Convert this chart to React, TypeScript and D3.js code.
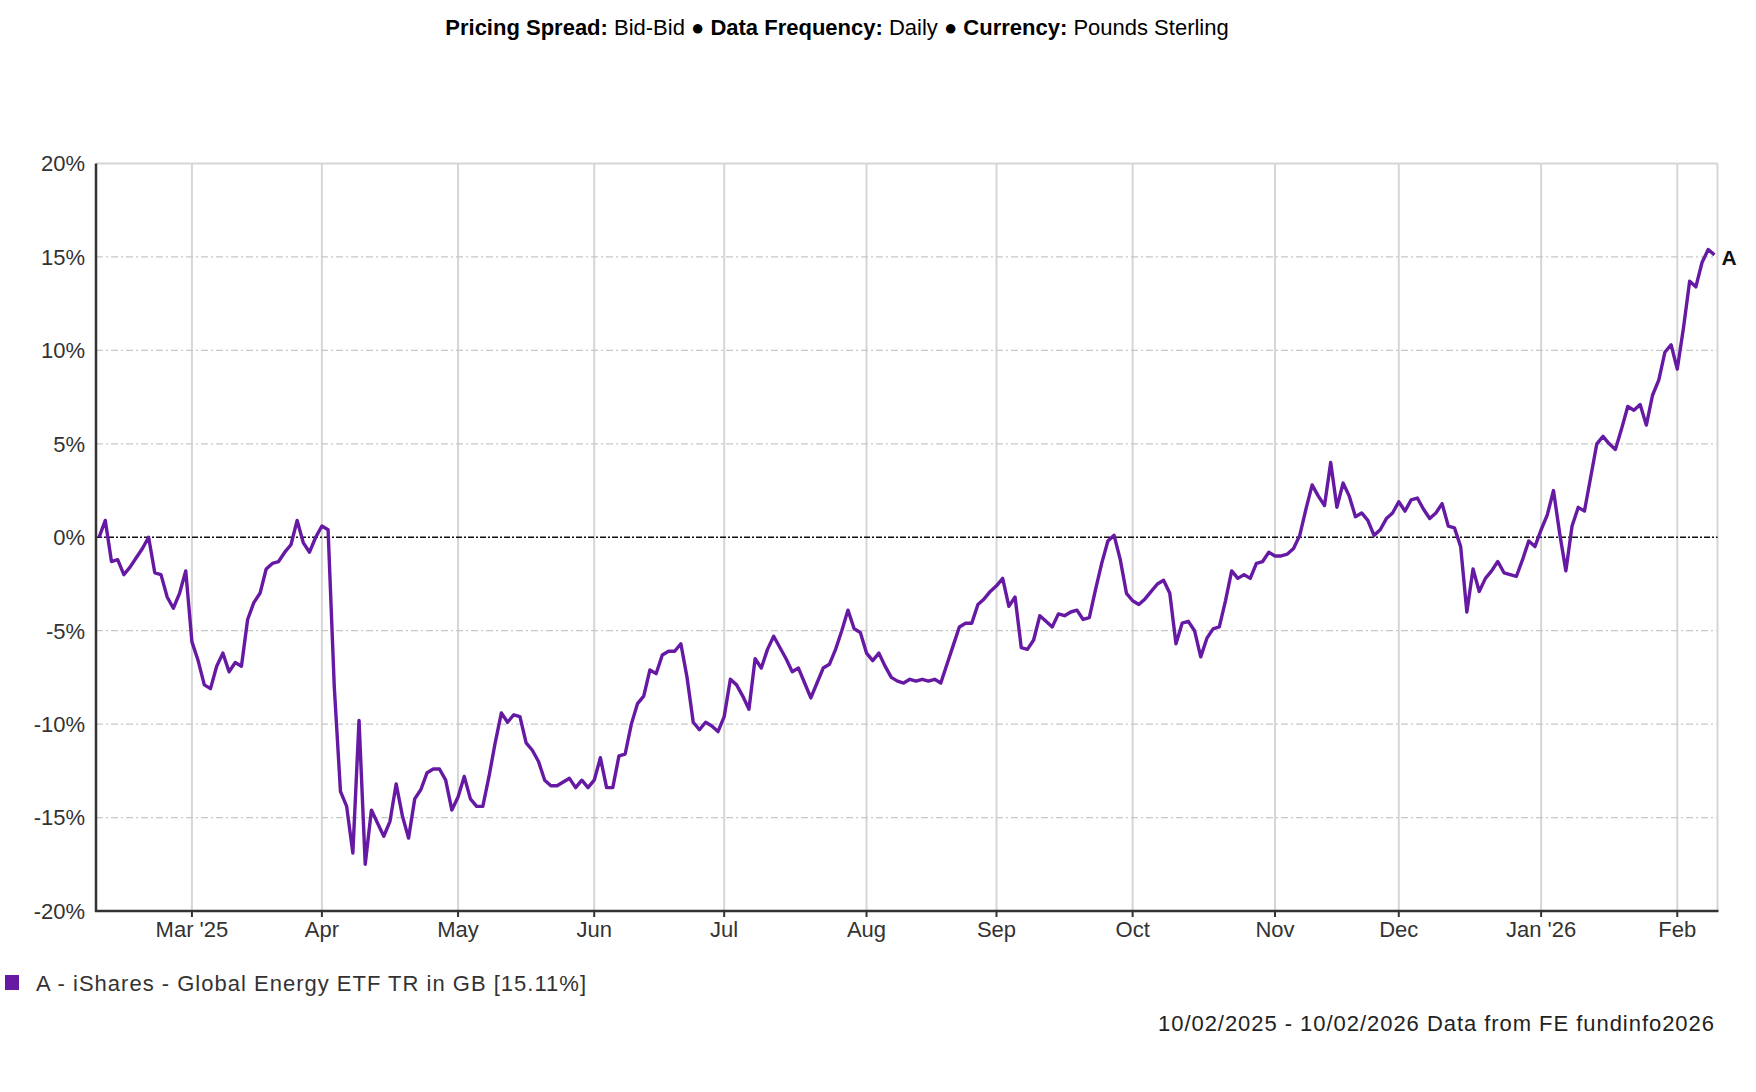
import * as d3 from "d3";
import { useEffect, useRef } from "react";

// weekday closes, % change since 10/02/2025
const feb25 = [0.0, 0.9, -1.3, -1.2, -2.0, -1.6, -1.1, -0.6, 0.0, -1.9, -2.0, -3.2, -3.8, -3.0, -1.8];
const mar25 = [-5.6, -6.6, -7.9, -8.1, -6.9, -6.2, -7.2, -6.7, -6.9, -4.4, -3.5, -3.0, -1.7, -1.4, -1.3, -0.8, -0.4, 0.9, -0.3, -0.8, 0.0];
const apr25 = [0.6, 0.4, -8.0, -13.6, -14.4, -16.9, -9.8, -17.5, -14.6, -15.3, -16.0, -15.2, -13.2, -14.9, -16.1, -14.0, -13.5, -12.6, -12.4, -12.4, -13.0, -14.6];
const may25 = [-13.9, -12.8, -14.0, -14.4, -14.4, -12.8, -11.0, -9.4, -9.9, -9.5, -9.6, -11.0, -11.4, -12.0, -13.0, -13.3, -13.3, -13.1, -12.9, -13.4, -13.0, -13.4];
const jun25 = [-13.0, -11.8, -13.4, -13.4, -11.7, -11.6, -10.0, -8.9, -8.5, -7.1, -7.3, -6.3, -6.1, -6.1, -5.7, -7.5, -9.9, -10.3, -9.9, -10.1, -10.4];
const jul25 = [-9.6, -7.6, -7.9, -8.5, -9.2, -6.5, -7.0, -6.0, -5.3, -5.9, -6.5, -7.2, -7.0, -7.8, -8.6, -7.8, -7.0, -6.8, -6.0, -5.0, -3.9, -4.9, -5.1];
const aug25 = [-6.2, -6.6, -6.2, -6.9, -7.5, -7.7, -7.8, -7.6, -7.7, -7.6, -7.7, -7.6, -7.8, -6.8, -5.8, -4.8, -4.6, -4.6, -3.6, -3.3, -2.9];
const sep25 = [-2.6, -2.2, -3.7, -3.2, -5.9, -6.0, -5.5, -4.2, -4.5, -4.8, -4.1, -4.2, -4.0, -3.9, -4.4, -4.3, -2.8, -1.4, -0.2, 0.1, -1.2, -3.0];
const oct25 = [-3.4, -3.6, -3.3, -2.9, -2.5, -2.3, -3.0, -5.7, -4.6, -4.5, -5.0, -6.4, -5.4, -4.9, -4.8, -3.4, -1.8, -2.2, -2.0, -2.2, -1.4, -1.3, -0.8];
const nov25 = [-1.0, -1.0, -0.9, -0.6, 0.1, 1.5, 2.8, 2.2, 1.7, 4.0, 1.6, 2.9, 2.2, 1.1, 1.3, 0.9, 0.1, 0.4, 1.0, 1.3];
const dec25 = [1.9, 1.4, 2.0, 2.1, 1.5, 1.0, 1.3, 1.8, 0.6, 0.5, -0.5, -4.0, -1.7, -2.9, -2.2, -1.8, -1.3, -1.9, -2.0, -2.1, -1.2, -0.2, -0.5];
const jan26 = [0.4, 1.2, 2.5, 0.2, -1.8, 0.6, 1.6, 1.4, 3.2, 5.0, 5.4, 5.0, 4.7, 5.8, 7.0, 6.8, 7.1, 6.0, 7.6, 8.4, 9.9, 10.3];
const feb26 = [9.0, 11.2, 13.7, 13.4, 14.7, 15.4, 15.11];

const values = [
  ...feb25, ...mar25, ...apr25, ...may25, ...jun25, ...jul25,
  ...aug25, ...sep25, ...oct25, ...nov25, ...dec25, ...jan26, ...feb26,
];

const monthLabels = ["Mar '25", "Apr", "May", "Jun", "Jul", "Aug", "Sep", "Oct", "Nov", "Dec", "Jan '26", "Feb"];
const yTicks = [20, 15, 10, 5, 0, -5, -10, -15, -20];

const seriesName = "A - iShares - Global Energy ETF TR in GB [15.11%]";
const footer = "10/02/2025 - 10/02/2026 Data from FE fundinfo2026";

const purple = "#6619a3";
const font = "'Liberation Sans', Arial, sans-serif";

// weekdays from 10/02/2025 to 10/02/2026 (the x axis skips weekends)
function weekdays(start: Date, end: Date) {
  const out: Date[] = [];
  const d = new Date(start);
  while (d <= end) {
    const wd = d.getDay();
    if (wd !== 0 && wd !== 6) out.push(new Date(d));
    d.setDate(d.getDate() + 1);
  }
  return out;
}

export default function App() {
  const svgRef = useRef<SVGSVGElement | null>(null);

  useEffect(() => {
    document.body.style.margin = "0";
    if (!svgRef.current) return;
    const svg = d3.select(svgRef.current);
    svg.selectAll("*").remove();

    const width = 1756;
    const height = 1092;
    const left = 96;
    const right = 1717.5;
    const top = 163.5;
    const bottom = 911;

    const dates = weekdays(new Date(2025, 1, 10), new Date(2026, 1, 10));
    const n = Math.min(dates.length, values.length);
    const data = values.slice(0, n).map((v, i) => ({ i, v, date: dates[i] }));

    // first weekday of each month
    const monthStarts: number[] = [];
    for (let i = 1; i < n; i++) {
      if (dates[i].getMonth() !== dates[i - 1].getMonth()) monthStarts.push(i);
    }

    const x = d3.scaleLinear().domain([-0.5, n - 0.5]).range([left, right]);
    const y = d3.scaleLinear().domain([-20, 20]).range([bottom, top]);

    svg.attr("width", width).attr("height", height);

    // title
    const title = svg.append("text")
      .attr("x", 837)
      .attr("y", 35)
      .attr("text-anchor", "middle")
      .attr("font-family", font)
      .attr("font-size", 22)
      .attr("fill", "#000");
    const parts: [string, boolean][] = [
      ["Pricing Spread:", true], [" Bid-Bid \u25CF ", false],
      ["Data Frequency:", true], [" Daily \u25CF ", false],
      ["Currency:", true], [" Pounds Sterling", false],
    ];
    parts.forEach(([t, b]) => {
      title.append("tspan").attr("font-weight", b ? "bold" : "normal").text(t);
    });

    // vertical month grid
    svg.append("g")
      .selectAll("line")
      .data(monthStarts)
      .enter()
      .append("line")
      .attr("x1", d => x(d))
      .attr("x2", d => x(d))
      .attr("y1", top)
      .attr("y2", bottom)
      .attr("stroke", "#d6d6d6")
      .attr("stroke-width", 2);

    // horizontal grid
    svg.append("g")
      .selectAll("line")
      .data(yTicks.filter(t => t !== 0 && t !== 20 && t !== -20))
      .enter()
      .append("line")
      .attr("x1", left)
      .attr("x2", right)
      .attr("y1", d => y(d))
      .attr("y2", d => y(d))
      .attr("stroke", "#c8c8c8")
      .attr("stroke-width", 1.2)
      .attr("stroke-dasharray", "7,3,2,3");

    // plot frame: light top/right, dark left/bottom
    svg.append("line")
      .attr("x1", left).attr("x2", right).attr("y1", top).attr("y2", top)
      .attr("stroke", "#d6d6d6").attr("stroke-width", 2);
    svg.append("line")
      .attr("x1", right).attr("x2", right).attr("y1", top).attr("y2", bottom)
      .attr("stroke", "#d6d6d6").attr("stroke-width", 2);

    // zero line
    svg.append("line")
      .attr("x1", left)
      .attr("x2", right)
      .attr("y1", y(0))
      .attr("y2", y(0))
      .attr("stroke", "#111")
      .attr("stroke-width", 1.6)
      .attr("stroke-dasharray", "6,2,2,2");

    // series line
    const line = d3.line<{ i: number; v: number }>()
      .x(d => x(d.i))
      .y(d => y(d.v));

    svg.append("path")
      .datum(data)
      .attr("d", line)
      .attr("fill", "none")
      .attr("stroke", purple)
      .attr("stroke-width", 3.4)
      .attr("stroke-linejoin", "round");

    // axes
    svg.append("line")
      .attr("x1", left).attr("x2", left).attr("y1", top).attr("y2", bottom + 1)
      .attr("stroke", "#333").attr("stroke-width", 2.5);
    svg.append("line")
      .attr("x1", left - 1).attr("x2", right + 1).attr("y1", bottom).attr("y2", bottom)
      .attr("stroke", "#333").attr("stroke-width", 2.5);

    // x ticks and labels
    const xg = svg.append("g");
    monthStarts.forEach((m, k) => {
      xg.append("line")
        .attr("x1", x(m)).attr("x2", x(m))
        .attr("y1", bottom).attr("y2", bottom + 6)
        .attr("stroke", "#333").attr("stroke-width", 2);
      xg.append("text")
        .attr("x", x(m))
        .attr("y", 937)
        .attr("text-anchor", "middle")
        .attr("font-family", font)
        .attr("font-size", 22)
        .attr("fill", "#333")
        .text(monthLabels[k] ?? "");
    });

    // y labels
    svg.append("g")
      .selectAll("text")
      .data(yTicks)
      .enter()
      .append("text")
      .attr("x", 85)
      .attr("y", d => y(d))
      .attr("dy", "0.36em")
      .attr("text-anchor", "end")
      .attr("font-family", font)
      .attr("font-size", 22)
      .attr("fill", "#333")
      .text(d => `${d}%`);

    // series end label
    const last = data[data.length - 1];
    svg.append("text")
      .attr("x", x(last.i) + 7)
      .attr("y", y(last.v) + 3)
      .attr("dy", "0.36em")
      .attr("font-family", font)
      .attr("font-size", 21)
      .attr("font-weight", "bold")
      .attr("fill", "#111")
      .text("A");

    // legend
    svg.append("rect")
      .attr("x", 5).attr("y", 975).attr("width", 14).attr("height", 15)
      .attr("fill", purple);
    svg.append("text")
      .attr("x", 36)
      .attr("y", 991)
      .attr("font-family", font)
      .attr("font-size", 22)
      .attr("fill", "#333")
      .attr("textLength", 550)
      .text(seriesName);

    // footer
    svg.append("text")
      .attr("x", 1714)
      .attr("y", 1031)
      .attr("text-anchor", "end")
      .attr("font-family", font)
      .attr("font-size", 22)
      .attr("fill", "#222")
      .attr("textLength", 556)
      .text(footer);
  }, []);

  return <svg ref={svgRef} style={{ display: "block" }}></svg>;
}
